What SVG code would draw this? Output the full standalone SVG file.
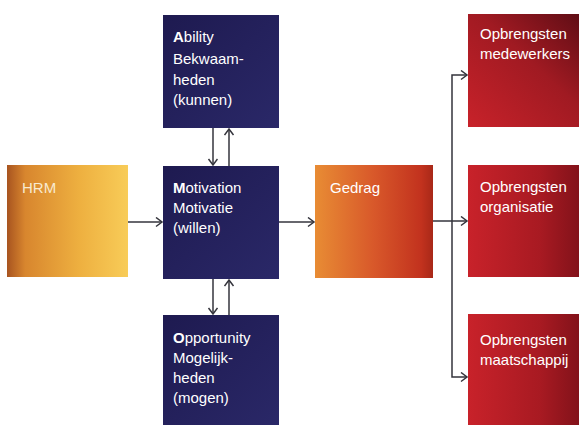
<svg xmlns="http://www.w3.org/2000/svg" width="579" height="425" viewBox="0 0 579 425">
<style>
.t{font-family:"Liberation Sans",Arial,sans-serif;font-size:15px;fill:#ffffff}
.b{font-weight:bold}
.c{fill:none;stroke:#34343c;stroke-width:1.5}
.blue{fill:url(#gBlue)}
</style>
<defs>
<linearGradient id="gHrm" x1="0" y1="0" x2="1" y2="0">
<stop offset="0" stop-color="#a85420"/>
<stop offset="0.15" stop-color="#d8862e"/>
<stop offset="0.6" stop-color="#eeb040"/>
<stop offset="1" stop-color="#f8cc58"/>
</linearGradient>
<linearGradient id="gGedrag" x1="0" y1="0" x2="1" y2="0">
<stop offset="0" stop-color="#e88c34"/>
<stop offset="0.5" stop-color="#d8582a"/>
<stop offset="0.9" stop-color="#c2321e"/>
<stop offset="1" stop-color="#a82818"/>
</linearGradient>
<linearGradient id="gRed" x1="0" y1="0" x2="1" y2="0">
<stop offset="0" stop-color="#c8222a"/>
<stop offset="0.6" stop-color="#a81a22"/>
<stop offset="1" stop-color="#7a1018"/>
</linearGradient>
<linearGradient id="gRed1" x1="0" y1="1" x2="1" y2="0">
<stop offset="0" stop-color="#c8222a"/>
<stop offset="0.55" stop-color="#a01a22"/>
<stop offset="1" stop-color="#5a0c14"/>
</linearGradient>
<linearGradient id="gBlue" x1="0" y1="0" x2="1" y2="1">
<stop offset="0" stop-color="#1e1a50"/>
<stop offset="1" stop-color="#2a2868"/>
</linearGradient>
<marker id="ar" markerUnits="userSpaceOnUse" markerWidth="10" markerHeight="12" refX="7" refY="5" orient="auto">
<path d="M1,0.5 L7,5 L1,9.5" fill="none" stroke="#34343c" stroke-width="1.5"/>
</marker>
</defs>
<rect width="579" height="425" fill="#ffffff"/>

<g id="hrm">
<rect x="7" y="165" width="121" height="112" fill="url(#gHrm)"/>
<text class="t" x="22" y="193" style="fill:#f8ead0">HRM</text>
</g>

<g id="ability">
<rect class="blue" x="163" y="15" width="116" height="113"/>
<text class="t" x="173" y="42"><tspan class="b">A</tspan>bility</text>
<text class="t" x="173" y="64">Bekwaam-</text>
<text class="t" x="173" y="85">heden</text>
<text class="t" x="173" y="105">(kunnen)</text>
</g>

<g id="motivation">
<rect class="blue" x="163" y="166" width="116" height="113"/>
<text class="t" x="173" y="193"><tspan class="b">M</tspan>otivation</text>
<text class="t" x="173" y="213">Motivatie</text>
<text class="t" x="173" y="233">(willen)</text>
</g>

<g id="opportunity">
<rect class="blue" x="163" y="315" width="116" height="115"/>
<text class="t" x="173" y="343"><tspan class="b">O</tspan>pportunity</text>
<text class="t" x="173" y="363">Mogelijk-</text>
<text class="t" x="173" y="383">heden</text>
<text class="t" x="173" y="403">(mogen)</text>
</g>

<g id="gedrag">
<rect x="315" y="165" width="118" height="113" fill="url(#gGedrag)"/>
<text class="t" x="330" y="193">Gedrag</text>
</g>

<g id="medewerkers">
<rect x="468" y="14" width="120" height="113" fill="url(#gRed1)"/>
<text class="t" x="480" y="39">Opbrengsten</text>
<text class="t" x="480" y="59">medewerkers</text>
</g>

<g id="organisatie">
<rect x="468" y="165" width="120" height="112" fill="url(#gRed)"/>
<text class="t" x="480" y="192">Opbrengsten</text>
<text class="t" x="480" y="212">organisatie</text>
</g>

<g id="maatschappij">
<rect x="468" y="314" width="120" height="116" fill="url(#gRed)"/>
<text class="t" x="480" y="345">Opbrengsten</text>
<text class="t" x="480" y="365">maatschappij</text>
</g>

<g id="connectors">
<line class="c" x1="128" y1="222" x2="162" y2="222" marker-end="url(#ar)"/>
<line class="c" x1="279" y1="222" x2="314" y2="222" marker-end="url(#ar)"/>
<line class="c" x1="213" y1="128" x2="213" y2="165" marker-end="url(#ar)"/>
<line class="c" x1="229" y1="166" x2="229" y2="129" marker-end="url(#ar)"/>
<line class="c" x1="213" y1="279" x2="213" y2="314" marker-end="url(#ar)"/>
<line class="c" x1="229" y1="315" x2="229" y2="280" marker-end="url(#ar)"/>
<line class="c" x1="433" y1="221" x2="467" y2="221" marker-end="url(#ar)"/>
<path class="c" d="M452,221 V75 H467" marker-end="url(#ar)"/>
<path class="c" d="M452,221 V377 H467" marker-end="url(#ar)"/>
</g>
</svg>
